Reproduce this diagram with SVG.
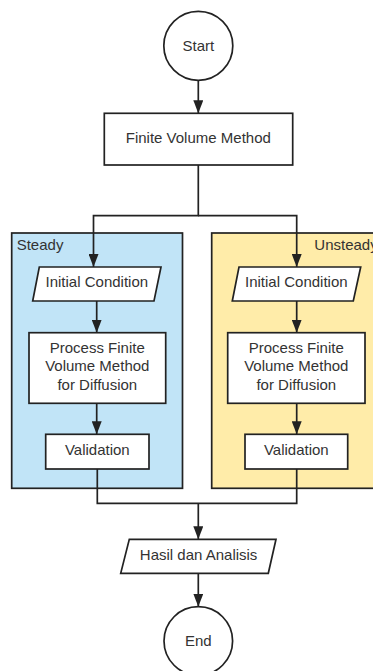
<svg xmlns="http://www.w3.org/2000/svg" width="373" height="671" viewBox="0 0 373 671">
<defs>
<style>
.sh{stroke:#222;stroke-width:1.7;fill:#fff}
.cn{stroke:#222;stroke-width:1.7;fill:none}
.t{font-family:"Liberation Sans",Arial,sans-serif;font-size:15px;fill:#333;text-anchor:middle}
.lb{font-family:"Liberation Sans",Arial,sans-serif;font-size:15px;fill:#333}
</style>
<marker id="ah" viewBox="0 0 13 10" refX="13" refY="5" markerWidth="13" markerHeight="10" markerUnits="userSpaceOnUse" orient="auto">
<path d="M0,0 L13,5 L0,10 z" fill="#222"/>
</marker>
</defs>
<rect width="373" height="671" fill="#fff"/>
<g id="steady">
<rect x="11.7" y="233" width="170.8" height="255.3" fill="#c1e4f7" stroke="#222" stroke-width="1.7"/>
<text class="lb" x="16.7" y="250">Steady</text>
</g>
<g id="unsteady">
<rect x="211.7" y="233" width="171" height="255.3" fill="#ffeca9" stroke="#222" stroke-width="1.7"/>
<text class="lb" x="377.7" y="250" text-anchor="end">Unsteady</text>
</g>
<g id="connectors">
<path class="cn" d="M198.3,80.3 V113.3" marker-end="url(#ah)"/>
<path class="cn" d="M198.3,165 V215.7 H93.5 V267" marker-end="url(#ah)"/>
<path class="cn" d="M198.3,215.7 H296.7 V267" marker-end="url(#ah)"/>
<path class="cn" d="M96.7,301 V332.7" marker-end="url(#ah)"/>
<path class="cn" d="M96.7,403.3 V434.3" marker-end="url(#ah)"/>
<path class="cn" d="M296.7,301 V332.7" marker-end="url(#ah)"/>
<path class="cn" d="M296.7,403.3 V434.3" marker-end="url(#ah)"/>
<path class="cn" d="M97.3,469 V503.3 H296.7 V469"/>
<path class="cn" d="M198.3,503.3 V539.3" marker-end="url(#ah)"/>
<path class="cn" d="M198.3,573.3 V606.7" marker-end="url(#ah)"/>
</g>
<g id="start">
<circle class="sh" cx="198.3" cy="45.8" r="34.5"/>
<text class="t" x="198.3" y="50.5">Start</text>
</g>
<g id="fvm">
<rect class="sh" x="104.3" y="113.3" width="188.4" height="51.7"/>
<text class="t" x="198.3" y="143">Finite Volume Method</text>
</g>
<g id="ic-steady">
<polygon class="sh" points="39.3,267 161,267 154,301 32.7,301"/>
<text class="t" x="96.8" y="287.3">Initial Condition</text>
</g>
<g id="proc-steady">
<rect class="sh" x="29" y="332.7" width="136.7" height="70.6"/>
<text class="t" x="97.3" y="352.5">Process Finite</text>
<text class="t" x="97.3" y="371">Volume Method</text>
<text class="t" x="97.3" y="389.5">for Diffusion</text>
</g>
<g id="val-steady">
<rect class="sh" x="45.7" y="434.3" width="103.3" height="34.7"/>
<text class="t" x="97.3" y="455">Validation</text>
</g>
<g id="ic-unsteady">
<polygon class="sh" points="239,267 360.7,267 353.3,301 232.3,301"/>
<text class="t" x="296.3" y="287.3">Initial Condition</text>
</g>
<g id="proc-unsteady">
<rect class="sh" x="227.7" y="332.7" width="137.3" height="70.6"/>
<text class="t" x="296.3" y="352.5">Process Finite</text>
<text class="t" x="296.3" y="371">Volume Method</text>
<text class="t" x="296.3" y="389.5">for Diffusion</text>
</g>
<g id="val-unsteady">
<rect class="sh" x="245" y="434.3" width="102.7" height="34.7"/>
<text class="t" x="296.3" y="455">Validation</text>
</g>
<g id="hasil">
<polygon class="sh" points="129.3,539.3 276,539.3 268.3,573.3 120.7,573.3"/>
<text class="t" x="198.6" y="560">Hasil dan Analisis</text>
</g>
<g id="end">
<circle class="sh" cx="198.3" cy="641" r="34.3"/>
<text class="t" x="198.3" y="645.5">End</text>
</g>
</svg>
